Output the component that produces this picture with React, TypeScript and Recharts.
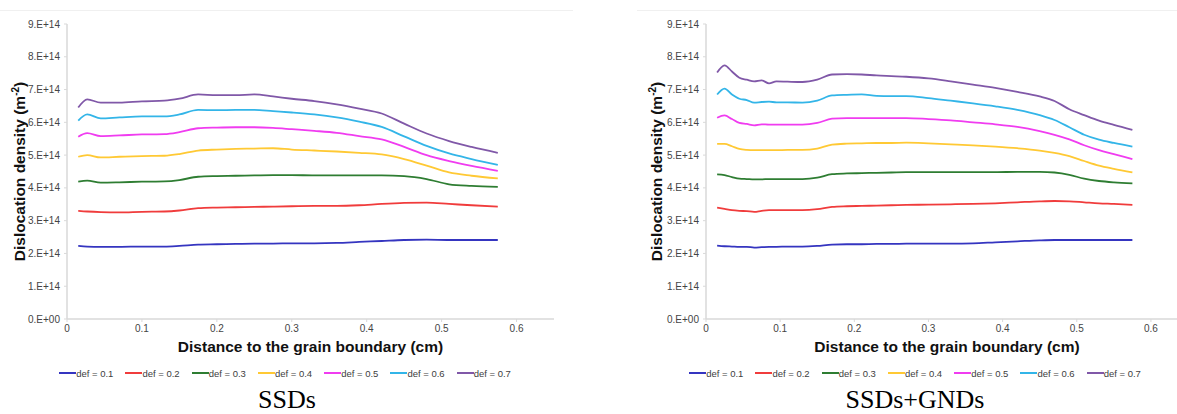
import React from "react";
import { LineChart, Line, XAxis, YAxis, Legend } from "recharts";

const FONT = "'Liberation Sans', Arial, sans-serif";

const defLabels = ["def = 0.1", "def = 0.2", "def = 0.3", "def = 0.4", "def = 0.5", "def = 0.6", "def = 0.7"];
const lineColors = ["#3535c0", "#f03c3c", "#2e7d32", "#ffc934", "#f03cf0", "#33b5e8", "#8058a8"];

const yTicks = [0, 1, 2, 3, 4, 5, 6, 7, 8, 9];
const xTicks = [0, 0.1, 0.2, 0.3, 0.4, 0.5, 0.6];

// left chart (SSDs), densities in 1E+14 m^-2
const ssdDistance = [0.015, 0.027, 0.045, 0.07, 0.1, 0.13, 0.15, 0.175, 0.2, 0.225, 0.25, 0.275, 0.3, 0.33, 0.36, 0.39, 0.42, 0.45, 0.48, 0.51, 0.54, 0.575];
const ssdDef01 = [2.23, 2.21, 2.2, 2.2, 2.21, 2.21, 2.23, 2.27, 2.28, 2.29, 2.3, 2.3, 2.31, 2.31, 2.32, 2.35, 2.38, 2.41, 2.42, 2.41, 2.41, 2.41];
const ssdDef02 = [3.3, 3.28, 3.26, 3.25, 3.27, 3.28, 3.31, 3.38, 3.4, 3.41, 3.42, 3.43, 3.44, 3.45, 3.45, 3.47, 3.51, 3.54, 3.55, 3.51, 3.47, 3.43];
const ssdDef03 = [4.19, 4.22, 4.16, 4.17, 4.19, 4.2, 4.24, 4.34, 4.36, 4.37, 4.38, 4.39, 4.39, 4.38, 4.38, 4.38, 4.38, 4.36, 4.27, 4.11, 4.06, 4.03];
const ssdDef04 = [4.95, 5.0, 4.93, 4.95, 4.97, 4.98, 5.03, 5.14, 5.17, 5.19, 5.2, 5.21, 5.17, 5.14, 5.11, 5.07, 5.02, 4.88, 4.68, 4.47, 4.37, 4.29];
const ssdDef05 = [5.56, 5.67, 5.58, 5.6, 5.63, 5.64, 5.7, 5.82, 5.84, 5.85, 5.85, 5.83, 5.79, 5.74, 5.68, 5.58, 5.48, 5.25, 5.0, 4.82, 4.67, 4.52];
const ssdDef06 = [6.05, 6.24, 6.12, 6.15, 6.18, 6.18, 6.24, 6.38, 6.37, 6.38, 6.38, 6.34, 6.3, 6.24, 6.15, 6.02, 5.86, 5.57, 5.28, 5.05, 4.88, 4.7];
const ssdDef07 = [6.45, 6.7, 6.6, 6.6, 6.64, 6.66, 6.72, 6.85, 6.83, 6.83, 6.85, 6.79, 6.72, 6.65, 6.55, 6.42, 6.27, 5.96, 5.66, 5.43, 5.25, 5.07];

// right chart (SSDs+GNDs), densities in 1E+14 m^-2
const gndDistance = [0.015, 0.025, 0.035, 0.045, 0.055, 0.065, 0.075, 0.085, 0.095, 0.11, 0.13, 0.15, 0.17, 0.19, 0.21, 0.23, 0.25, 0.27, 0.3, 0.33, 0.36, 0.39, 0.42, 0.45, 0.47, 0.49, 0.51, 0.53, 0.55, 0.575];
const gndDef01 = [2.24, 2.22, 2.21, 2.2, 2.2, 2.18, 2.19, 2.2, 2.2, 2.21, 2.21, 2.23, 2.27, 2.28, 2.28, 2.29, 2.29, 2.3, 2.3, 2.3, 2.31, 2.34, 2.37, 2.4, 2.41, 2.41, 2.41, 2.41, 2.41, 2.41];
const gndDef02 = [3.4, 3.36, 3.32, 3.3, 3.29, 3.27, 3.3, 3.32, 3.32, 3.32, 3.32, 3.35, 3.42, 3.44, 3.45, 3.46, 3.47, 3.48, 3.49, 3.5, 3.51, 3.53, 3.56, 3.59, 3.6, 3.59, 3.56, 3.53, 3.51, 3.48];
const gndDef03 = [4.41, 4.39, 4.33, 4.28, 4.27, 4.26, 4.26, 4.27, 4.27, 4.27, 4.27, 4.31, 4.42, 4.44, 4.45, 4.46, 4.47, 4.48, 4.48, 4.48, 4.48, 4.48, 4.49, 4.49, 4.47, 4.4, 4.28, 4.21, 4.17, 4.14];
const gndDef04 = [5.34, 5.34, 5.27, 5.19, 5.16, 5.15, 5.15, 5.15, 5.15, 5.16, 5.16, 5.2, 5.32, 5.35, 5.36, 5.37, 5.37, 5.38, 5.36, 5.33, 5.3, 5.26, 5.21, 5.14, 5.07, 4.97, 4.82, 4.68, 4.58, 4.47];
const gndDef05 = [6.14, 6.21, 6.1, 5.98, 5.95, 5.91, 5.94, 5.93, 5.93, 5.93, 5.93, 5.98, 6.11, 6.13, 6.13, 6.13, 6.13, 6.13, 6.1, 6.06, 6.0, 5.94, 5.86, 5.73, 5.62, 5.48, 5.3, 5.15, 5.03, 4.88];
const gndDef06 = [6.85, 7.03, 6.85, 6.72, 6.68, 6.6, 6.62, 6.63, 6.61, 6.61, 6.6, 6.66, 6.82, 6.84, 6.85, 6.81, 6.8, 6.8, 6.74, 6.66, 6.58, 6.49, 6.38, 6.22, 6.07, 5.85, 5.62, 5.47, 5.37, 5.26];
const gndDef07 = [7.52, 7.74, 7.55, 7.36, 7.3, 7.25, 7.28, 7.19, 7.25, 7.24, 7.23, 7.3, 7.46, 7.47, 7.46, 7.43, 7.41, 7.39, 7.34, 7.25, 7.15, 7.05, 6.93, 6.79, 6.65, 6.4, 6.22, 6.05, 5.92, 5.77];

const ssdSeries = [ssdDef01, ssdDef02, ssdDef03, ssdDef04, ssdDef05, ssdDef06, ssdDef07];
const gndSeries = [gndDef01, gndDef02, gndDef03, gndDef04, gndDef05, gndDef06, gndDef07];

const buildRows = (xs: number[], series: number[][]) =>
  xs.map((x, i) => {
    const row: Record<string, number> = { x };
    series.forEach((s, k) => {
      row[`d${k}`] = s[i];
    });
    return row;
  });

const yFormat = (v: number) => (v === 0 ? "0.E+00" : `${v}.E+14`);

const renderLegend = (props: any) => {
  const payload = props.payload || [];
  return (
    <div style={{ display: "flex", justifyContent: "center", alignItems: "center", gap: 12, height: 16, fontFamily: FONT, fontSize: 9.5, color: "#404040" }}>
      {payload.map((p: any) => (
        <div key={p.value} style={{ display: "flex", alignItems: "center" }}>
          <span style={{ display: "inline-block", width: 17, height: 2, background: p.color }} />
          <span>{p.value}</span>
        </div>
      ))}
    </div>
  );
};

interface ChartProps {
  xs: number[];
  series: number[][];
  width: number;
  yAxisWidth: number;
  rightMargin: number;
  titleX: number;
}

function DensityChart({ xs, series, width, yAxisWidth, rightMargin, titleX }: ChartProps) {
  const rows = buildRows(xs, series);

  const yTitle = (p: any) => {
    const vb = p.viewBox || { x: 0, y: 24, width: yAxisWidth, height: 295 };
    const cx = vb.x + titleX;
    const cy = vb.y + vb.height / 2;
    return (
      <text x={cx} y={cy} transform={`rotate(-90 ${cx} ${cy})`} textAnchor="middle" fontFamily={FONT} fontWeight="bold" fontSize={15.5} fill="#111">
        Dislocation density (m
        <tspan fontSize={10} dy={-6}>-2</tspan>
        <tspan dy={6}>)</tspan>
      </text>
    );
  };

  const xTitle = (p: any) => {
    const vb = p.viewBox || { x: yAxisWidth, y: 319, width: 480, height: 46 };
    return (
      <text x={vb.x + vb.width / 2} y={vb.y + 33} textAnchor="middle" fontFamily={FONT} fontWeight="bold" fontSize={15.5} fill="#111">
        Distance to the grain boundary (cm)
      </text>
    );
  };

  return (
    <LineChart width={width} height={385} data={rows} margin={{ top: 24, right: rightMargin, bottom: 4, left: 0 }}>
      <XAxis
        dataKey="x"
        type="number"
        domain={[0, 0.65]}
        ticks={xTicks}
        interval={0}
        allowDataOverflow
        height={46}
        axisLine={{ stroke: "#d9d9d9", strokeWidth: 1.5 }}
        tickLine={{ stroke: "#d9d9d9" }}
        tickSize={3}
        tickMargin={3}
        tick={{ fontSize: 10, fill: "#444", fontFamily: FONT }}
        label={{ content: xTitle }}
      />
      <YAxis
        type="number"
        domain={[0, 9]}
        ticks={yTicks}
        interval={0}
        width={yAxisWidth}
        tickFormatter={yFormat}
        axisLine={{ stroke: "#d9d9d9", strokeWidth: 1.5 }}
        tickLine={{ stroke: "#d9d9d9" }}
        tickSize={3}
        tickMargin={4}
        tick={{ fontSize: 10, fill: "#444", fontFamily: FONT }}
        label={{ content: yTitle }}
      />
      <Legend verticalAlign="bottom" align="center" content={renderLegend} wrapperStyle={{ left: 0, width }} />
      {series.map((_, k) => (
        <Line
          key={k}
          type="monotone"
          dataKey={`d${k}`}
          name={defLabels[k]}
          stroke={lineColors[k]}
          strokeWidth={1.8}
          dot={false}
          isAnimationActive={false}
        />
      ))}
    </LineChart>
  );
}

const captionStyle: React.CSSProperties = {
  position: "absolute",
  top: 386,
  fontFamily: "'Liberation Serif', 'Times New Roman', serif",
  fontSize: 26,
  lineHeight: "28px",
  color: "#000",
  textAlign: "center",
  width: 300,
};

export default function App() {
  return (
    <div style={{ position: "fixed", left: 0, top: 0, width: 1177, height: 414, overflow: "hidden", background: "#fff" }}>
      <div style={{ position: "absolute", left: 0, top: 10, width: 573, height: 1, background: "#f0f0f0" }} />
      <div style={{ position: "absolute", left: 637, top: 10, width: 540, height: 1, background: "#f0f0f0" }} />
      <div style={{ position: "absolute", left: 0, top: 0 }}>
        <DensityChart xs={ssdDistance} series={ssdSeries} width={570} yAxisWidth={67} rightMargin={16} titleX={25} />
      </div>
      <div style={{ position: "absolute", left: 640, top: 0 }}>
        <DensityChart xs={gndDistance} series={gndSeries} width={550} yAxisWidth={66} rightMargin={2} titleX={22} />
      </div>
      <div style={{ ...captionStyle, left: 287 - 150 }}>SSDs</div>
      <div style={{ ...captionStyle, left: 915 - 150 }}>SSDs+GNDs</div>
    </div>
  );
}
